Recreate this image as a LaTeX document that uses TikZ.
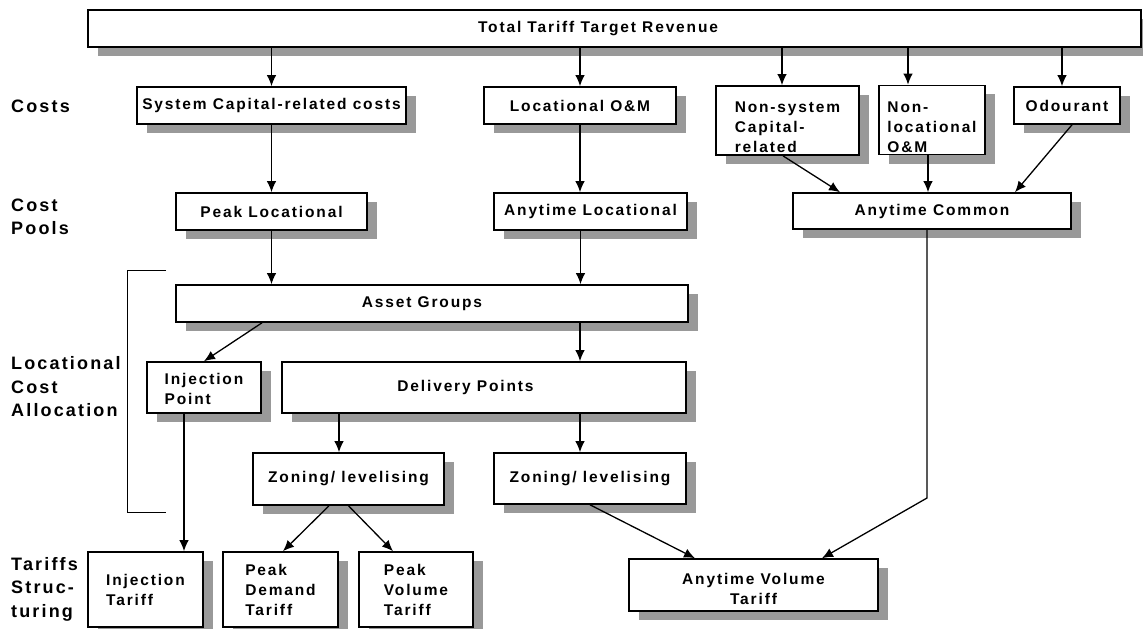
\documentclass[tikz,border=0pt]{standalone}
\usepackage{fontspec}
\setmainfont{Liberation Sans}[LetterSpace=12]
\usepackage{tikz}
\usetikzlibrary{arrows.meta, shadows, calc}
\definecolor{shadowgray}{RGB}{153,153,153}
\tikzset{next/.style={-{Latex[length=11pt, width=9.5pt]}, line width=1.3pt}}
\tikzset{box/.style={draw, line width=1.6pt, fill=white, inner sep=2pt, font=\fontsize{15.5}{20}\selectfont\bfseries, drop shadow={shadow xshift=10pt, shadow yshift=-9pt, fill=shadowgray, opacity=1}}}
\tikzset{rowlabel/.style={anchor=west, inner sep=0pt, align=left, font=\fontsize{18}{23.5}\selectfont\bfseries}}
\newcommand{\lowtext}[1]{\rule{0pt}{#1}}

\begin{document}
\begin{tikzpicture}[x=1pt, y=-1pt]
        \useasboundingbox (0,0) rectangle (1143,629);

        % row labels
        \node (costs) at (11,106) [rowlabel] {Costs};
        \node (pools) at (11,217) [rowlabel] {Cost\\Pools};
        \node (alloc) at (11,387) [rowlabel] {Locational\\Cost\\Allocation};
        \node (struct) at (11,589) [rowlabel] {Tariffs\\Struc-\\turing};

        \coordinate (brtop) at (166,270);
        \coordinate (brbot) at (166,512);
        \draw[line width=1pt] (brtop) -- ++(-39,0) -- ++(0,242) -- (brbot);

        \node (total) at (614.5,28.5) [box, minimum width=1053pt, minimum height=37pt] {Total Tariff Target Revenue\hspace*{33pt}};

        \node (sys) at (271.5,105.5) [box, minimum width=269pt, minimum height=37pt] {System Capital-related costs};
        \node (locom) at (580,105.5) [box, minimum width=192pt, minimum height=37pt] {Locational O\&M};
        \node (nonsys) at (787.5,120.5) [box, align=left, minimum width=143pt, minimum height=67pt] {\lowtext{25pt}Non-system\\Capital-\\related};
        \node (nonloc) at (932,120) [box, align=left, minimum width=106pt, minimum height=66pt] {\lowtext{25pt}Non-\\locational\\O\&M};
        \node (odour) at (1067,105.5) [box, minimum width=106pt, minimum height=37pt] {Odourant};

        \draw[next] (sys.north |- total.south) -- (sys.north);
        \draw[next] (locom.north |- total.south) -- (locom.north);
        \draw[next] ([xshift=-5.5pt]nonsys.north |- total.south) -- ([xshift=-5.5pt]nonsys.north);
        \draw[next] ([xshift=-24pt]nonloc.north |- total.south) -- ([xshift=-24pt]nonloc.north);
        \draw[next] ([xshift=-5pt]odour.north |- total.south) -- ([xshift=-5pt]odour.north);

        \node (peakloc) at (271.5,211.5) [box, minimum width=191pt, minimum height=37pt] {Peak Locational};
        \node (anyloc) at (590.5,211.5) [box, minimum width=193pt, minimum height=37pt] {Anytime Locational};
        \node (anycom) at (932,211) [box, minimum width=278pt, minimum height=36pt] {Anytime Common};

        \draw[next] (sys.south) -- (sys.south |- peakloc.north);
        \draw[next] (locom.south) -- (locom.south |- anyloc.north);
        \draw[next] ([xshift=-4.5pt]nonsys.south) -- ([xshift=-92pt]anycom.north);
        \draw[next] ([xshift=-4pt]nonloc.south) -- ([xshift=-4pt]anycom.north);
        \draw[next] ([xshift=5pt]odour.south) -- ([xshift=83pt]anycom.north);

        \node (assets) at (432,303.5) [box, minimum width=512pt, minimum height=37pt] {Asset Groups\hspace*{20pt}};
        \draw[next] (peakloc.south) -- (peakloc.south |- assets.north);
        \draw[next] ([xshift=-10pt]anyloc.south) -- ([xshift=-10pt]anyloc.south |- assets.north);

        \node (injpt) at (204,387.5) [box, align=left, minimum width=114pt, minimum height=51pt] {\lowtext{14pt}Injection\\Point};
        \node (deliv) at (484,387.5) [box, minimum width=404pt, minimum height=51pt] {Delivery Points\hspace*{37pt}};
        \draw[next] ([xshift=-170pt]assets.south) -- (injpt.north);
        \draw[next] ([xshift=148pt]assets.south) -- ([xshift=148pt]assets.south |- deliv.north);

        \node (zone1) at (348.5,479) [box, minimum width=191pt, minimum height=52pt] {Zoning/ levelising};
        \node (zone2) at (590,478.5) [box, minimum width=192pt, minimum height=51pt] {Zoning/ levelising};
        \draw[next] ([xshift=-145pt]deliv.south) -- ([xshift=-145pt]deliv.south |- zone1.north);
        \draw[next] ([xshift=96pt]deliv.south) -- ([xshift=96pt]deliv.south |- zone2.north);

        % tariffs
        \node (injtar) at (145.5,589.5) [box, align=left, minimum width=115pt, minimum height=75pt] {Injection\\Tariff};
        \node (peakdem) at (280.5,589.5) [box, align=left, minimum width=115pt, minimum height=75pt] {Peak\\Demand\\Tariff};
        \node (peakvol) at (416,589.5) [box, align=left, minimum width=114pt, minimum height=75pt] {Peak\\Volume\\Tariff};
        \node (anyvol) at (753.5,585) [box, align=center, minimum width=249pt, minimum height=52pt] {\lowtext{19pt}Anytime Volume\\Tariff};

        \draw[next] ([xshift=-20pt]injpt.south) -- ([xshift=-20pt]injpt.south |- injtar.north);
        \draw[next] ([xshift=-19.5pt]zone1.south) -- ([xshift=2.5pt]peakdem.north);
        \draw[next] (zone1.south) -- ([xshift=-23pt]peakvol.north);
        \draw[next] (zone2.south) -- ([xshift=-58.5pt]anyvol.north);

        \coordinate (bend) at (927,498);
        \draw[next] (anycom.south -| bend) -- (bend) -- ([xshift=68.5pt]anyvol.north);

\end{tikzpicture}
\end{document}
